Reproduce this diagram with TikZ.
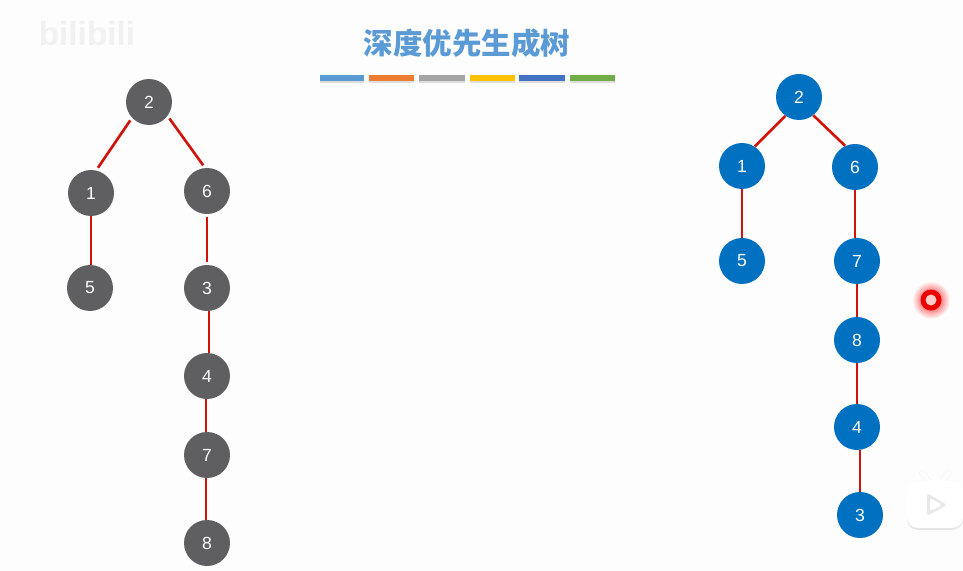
\documentclass[tikz,border=0pt]{standalone}
\usepackage{fontspec}
\setmainfont{Liberation Sans}
\newfontfamily\cjkfont{Noto Sans CJK SC}
\usepackage{tikz}
\usetikzlibrary{shadows}
\usepackage{xcolor}
\definecolor{pagewhite}{HTML}{FDFDFE}
\definecolor{titleblue}{HTML}{5B9BD5}
\definecolor{treegray}{HTML}{5F5F62}
\definecolor{treeblue}{HTML}{0070C0}
\definecolor{edgered}{HTML}{D0140C}
\definecolor{markgray}{HTML}{F1F1F2}
\definecolor{barorange}{HTML}{ED7D31}
\definecolor{bargray}{HTML}{A5A5A5}
\definecolor{baryellow}{HTML}{FFC000}
\definecolor{barblue}{HTML}{4472C4}
\definecolor{bargreen}{HTML}{70AD47}
\tikzset{
  vertex/.style={circle, minimum size=0.92cm, inner sep=0pt, text=white, font=\fontsize{10}{12}\selectfont},
  grayvertex/.style={vertex, fill=treegray},
  bluevertex/.style={vertex, fill=treeblue},
  treeedge/.style={edgered, line width=1.5pt},
  gapedge/.style={treeedge, shorten <=1.7pt, shorten >=1.7pt},
}
\begin{document}
\begin{tikzpicture}[x=0.02cm, y=-0.02cm]
  \useasboundingbox (0,0) rectangle (963,571);
  \fill[pagewhite] (0,0) rectangle (963,571);
  % watermark
  \node[text=markgray, font=\fontsize{19}{22}\selectfont\bfseries] (logo) at (87,34) {bilibili};
  % title
  \node[text=titleblue, font=\cjkfont\bfseries\fontsize{16.8}{20}\selectfont] (title) at (467,43) {深度优先生成树};
  \foreach \xa/\xb/\barcolor in {320/364/titleblue, 369/414/barorange, 419/465/bargray,
      470/515/baryellow, 519/565/barblue, 570/615/bargreen}
    \fill[\barcolor, drop shadow={shadow xshift=0pt, shadow yshift=-1pt, opacity=0.25}] (\xa,75) rectangle (\xb,81);
  % left tree
  \node[grayvertex] (l2) at (149,102) {2};
  \node[grayvertex] (l1) at (91,193) {1};
  \node[grayvertex] (l6) at (207,191) {6};
  \node[grayvertex] (l5) at (90,288) {5};
  \node[grayvertex] (l3) at (207,288) {3};
  \node[grayvertex] (l4) at (207,376) {4};
  \node[grayvertex] (l7) at (207,455) {7};
  \node[grayvertex] (l8) at (207,543) {8};
  \draw[gapedge] (l2.223) -- (l1.77);
  \draw[gapedge] (l2.323) -- (l6.95);
  \draw[treeedge] (l1.south) -- (l1.south |- l5.north);
  \draw[gapedge] (l6.south) -- (l3.north);
  \draw[treeedge] ([xshift=0.04cm]l3.south) -- ([xshift=0.04cm]l4.north);
  \draw[treeedge] ([xshift=-0.02cm]l4.south) -- ([xshift=-0.02cm]l7.north);
  \draw[treeedge] ([xshift=-0.02cm]l7.south) -- ([xshift=-0.02cm]l8.north);
  % right tree
  \node[bluevertex] (r2) at (799,97) {2};
  \node[bluevertex] (r1) at (742,166) {1};
  \node[bluevertex] (r6) at (855,167) {6};
  \node[bluevertex] (r5) at (742,261) {5};
  \node[bluevertex] (r7) at (857,261) {7};
  \node[bluevertex] (r8) at (857,340) {8};
  \node[bluevertex] (r4) at (857,427) {4};
  \node[bluevertex] (r3) at (860,515) {3};
  \draw[treeedge] (r2.234) -- (r1.57);
  \draw[treeedge] (r2.308) -- (r6.115);
  \draw[treeedge] (r1) -- (r5);
  \draw[treeedge] (r6.south) -- (r6.south |- r7.north);
  \draw[treeedge] (r7) -- (r8);
  \draw[treeedge] (r8) -- (r4);
  \draw[treeedge] (r3.north |- r4.south) -- (r3.north);
  % pointer
  \shade[shading=radial, inner color=red, outer color=pagewhite] (931,300) circle (19);
  \fill[red!92!black] (931,300) circle (10.5);
  \fill[red!20!white] (931,300) circle (5.5);
  % player badge
  \draw[black!6, line width=3pt, line cap=round] (922,473) -- (929,481);
  \draw[black!6, line width=3pt, line cap=round] (949,473) -- (942,481);
  \draw[white, line width=2.4pt, line cap=round] (922,473) -- (929,481);
  \draw[white, line width=2.4pt, line cap=round] (949,473) -- (942,481);
  \fill[white, drop shadow={shadow xshift=0pt, shadow yshift=-1pt, opacity=0.2}, rounded corners=6pt]
    (907,481) rectangle (963,528);
  \fill[black!9, rounded corners=1.5pt] (927,493) -- (947,505) -- (927,516) -- cycle;
  \fill[white, rounded corners=1pt] (930,498) -- (942,505) -- (930,511) -- cycle;
\end{tikzpicture}
\end{document}
